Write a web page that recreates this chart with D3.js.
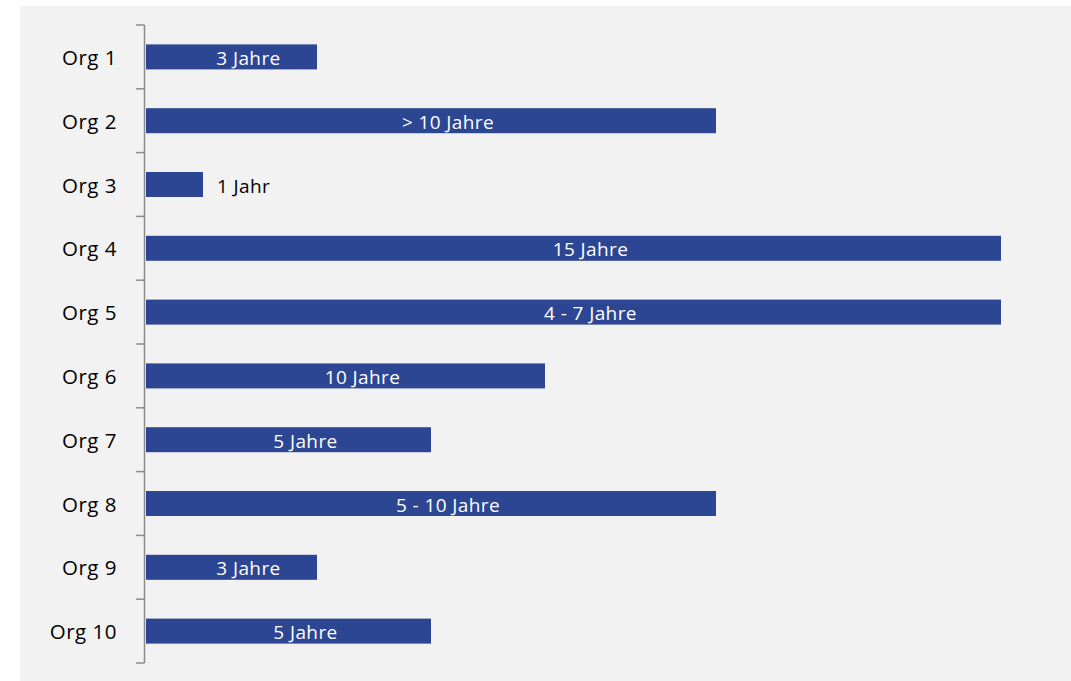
<!DOCTYPE html>
<html>
<head>
<meta charset="utf-8">
<script src="https://cdn.jsdelivr.net/npm/d3@7"></script>
<style>
  body { margin: 0; background: #fff; }
  text { font-family: "Open Sans", Lato, sans-serif; }
</style>
</head>
<body>
<svg id="chart" width="1071" height="681"></svg>
<script>
// data
const orgs = ["Org 1", "Org 2", "Org 3", "Org 4", "Org 5", "Org 6", "Org 7", "Org 8", "Org 9", "Org 10"];
const years = [3, 10, 1, 15, 15, 7, 5, 10, 3, 5];
const labels = ["3 Jahre", "> 10 Jahre", "1 Jahr", "15 Jahre", "4 - 7 Jahre", "10 Jahre", "5 Jahre", "5 - 10 Jahre", "3 Jahre", "5 Jahre"];
const inside = [true, true, false, true, true, true, true, true, true, true];

const BAR = "#2d4693";

const svg = d3.select("#chart");

// gray panel
svg.append("rect")
  .attr("x", 20).attr("y", 6)
  .attr("width", 1051).attr("height", 675)
  .attr("fill", "#f2f2f2");

const x = d3.scaleLinear().domain([0, 15]).range([146, 1001]);
const band = d3.scaleBand().domain(orgs).range([25, 663]);

// axis line + ticks between categories
const g = svg.append("g");
g.append("line")
  .attr("x1", 144.5).attr("x2", 144.5)
  .attr("y1", 25).attr("y2", 663)
  .attr("stroke", "#8c8c8c").attr("stroke-width", 1.5);

const bounds = orgs.map(d => band(d)).concat([663]);
g.selectAll(".tick").data(bounds).join("line")
  .attr("x1", 136).attr("x2", 144.5)
  .attr("y1", d => d).attr("y2", d => d)
  .attr("stroke", "#8c8c8c").attr("stroke-width", 1.5);

// category labels
g.selectAll(".cat").data(orgs).join("text")
  .attr("x", 117)
  .attr("y", d => band(d) + band.bandwidth() / 2)
  .attr("text-anchor", "end")
  .attr("dominant-baseline", "central")
  .attr("font-size", 20.5)
  .attr("letter-spacing", 0.5)
  .attr("fill", "#000")
  .text(d => d);

// bars
svg.selectAll(".bar").data(orgs).join("rect")
  .attr("x", x(0))
  .attr("y", d => band(d) + band.bandwidth() / 2 - 12.5)
  .attr("width", (d, i) => x(years[i]) - x(0))
  .attr("height", 25)
  .attr("fill", BAR);

// bar labels
svg.selectAll(".lab").data(orgs).join("text")
  .attr("x", (d, i) => inside[i] ? (x(0) + x(years[i])) / 2 + 17 : x(years[i]) + 14)
  .attr("y", d => band(d) + band.bandwidth() / 2 + 1)
  .attr("text-anchor", (d, i) => inside[i] ? "middle" : "start")
  .attr("dominant-baseline", "central")
  .attr("font-size", 19)
  .attr("letter-spacing", 0.4)
  .attr("fill", (d, i) => inside[i] ? "#fff" : "#000")
  .text((d, i) => labels[i]);
</script>
</body>
</html>
